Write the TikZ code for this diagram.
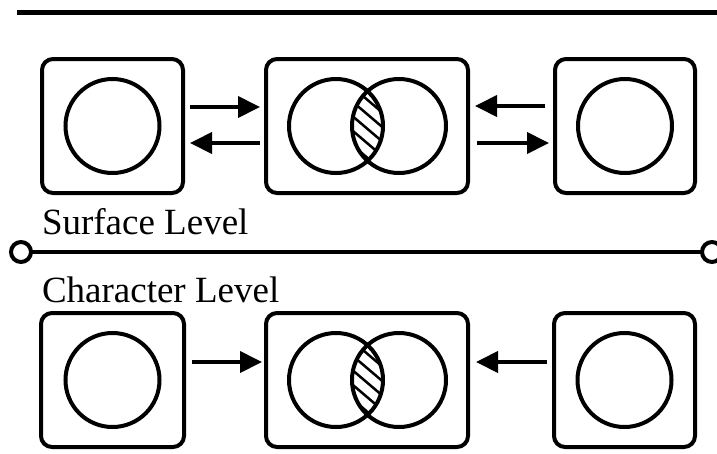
\documentclass[tikz,border=0pt]{standalone}
\usepackage{fontspec}
\setmainfont{Liberation Serif}
\usetikzlibrary{arrows.meta}
\begin{document}
\begin{tikzpicture}[x=1pt,y=-1pt,line width=4pt,
  panel/.style={draw,rounded corners=11pt,minimum width=#1,minimum height=134pt,inner sep=0pt,outer sep=0pt},
  ring/.style={draw,circle,minimum size=94pt,inner sep=0pt,outer sep=0pt},
  endring/.style={draw,circle,fill=white,minimum size=20pt,inner sep=0pt,outer sep=0pt},
  arr/.style={-{Triangle[length=22pt,width=21pt]}},
  hatch/.style={line width=2.5pt},
  lvl/.style={anchor=base west,inner sep=0pt,font=\fontsize{37}{44}\selectfont}]
\useasboundingbox (0,0) rectangle (717,453);

% rule along the top
\coordinate (ruleL) at (17,12.5);
\coordinate (ruleR) at (717,12.5);
\draw[line width=5pt] (ruleL) -- (ruleR);

% surface level row
\node[panel=141pt] (sL) at (112.5,126) {};
\node[panel=202pt] (sM) at (367,126) {};
\node[panel=140pt] (sR) at (625,126) {};
\node[ring] (sLc) at (sL.center) {};
\node[ring] (sRc) at (sR.center) {};
\node[ring] (sMa) at (336,126) {};
\node[ring] (sMb) at (399,126) {};
\begin{scope}
  \clip (336,126) circle (47);
  \clip (399,126) circle (47);
  \foreach \k in {-5,...,5}
    \draw[hatch] (330,126+\k*14.5-29) -- (404,126+\k*14.5+34);
\end{scope}
\draw[arr] ([xshift=7pt,yshift=19pt]sL.east) -- ([xshift=-6pt,yshift=19pt]sM.west);
\draw[arr] ([xshift=-6pt,yshift=-17pt]sM.west) -- ([xshift=7pt,yshift=-17pt]sL.east);
\draw[arr] ([xshift=-10pt,yshift=20pt]sR.west) -- ([xshift=7pt,yshift=20pt]sM.east);
\draw[arr] ([xshift=9pt,yshift=-17pt]sM.east) -- ([xshift=-6pt,yshift=-17pt]sR.west);

% level divider
\node[endring] (dL) at (21,252) {};
\node[endring] (dR) at (712,252) {};
\draw (dL) -- (dR);
\node[lvl] (surf) at (40,234) {Surface Level};
\node[lvl] (char) at (40,302) {Character Level};

% character level row
\node[panel=143pt] (cL) at (112.5,380) {};
\node[panel=202pt] (cM) at (367,380) {};
\node[panel=141pt] (cR) at (624.5,380) {};
\node[ring] (cLc) at (cL.center) {};
\node[ring] (cRc) at (cR.center) {};
\node[ring] (cMa) at (336,380) {};
\node[ring] (cMb) at (399,380) {};
\begin{scope}
  \clip (336,380) circle (47);
  \clip (399,380) circle (47);
  \foreach \k in {-5,...,5}
    \draw[hatch] (330,380+\k*14.5-29) -- (404,380+\k*14.5+34);
\end{scope}
\draw[arr] ([xshift=8pt,yshift=18pt]cL.east) -- ([xshift=-4pt,yshift=18pt]cM.west);
\draw[arr] ([xshift=-7pt,yshift=18pt]cR.west) -- ([xshift=8pt,yshift=18pt]cM.east);
\end{tikzpicture}
\end{document}
